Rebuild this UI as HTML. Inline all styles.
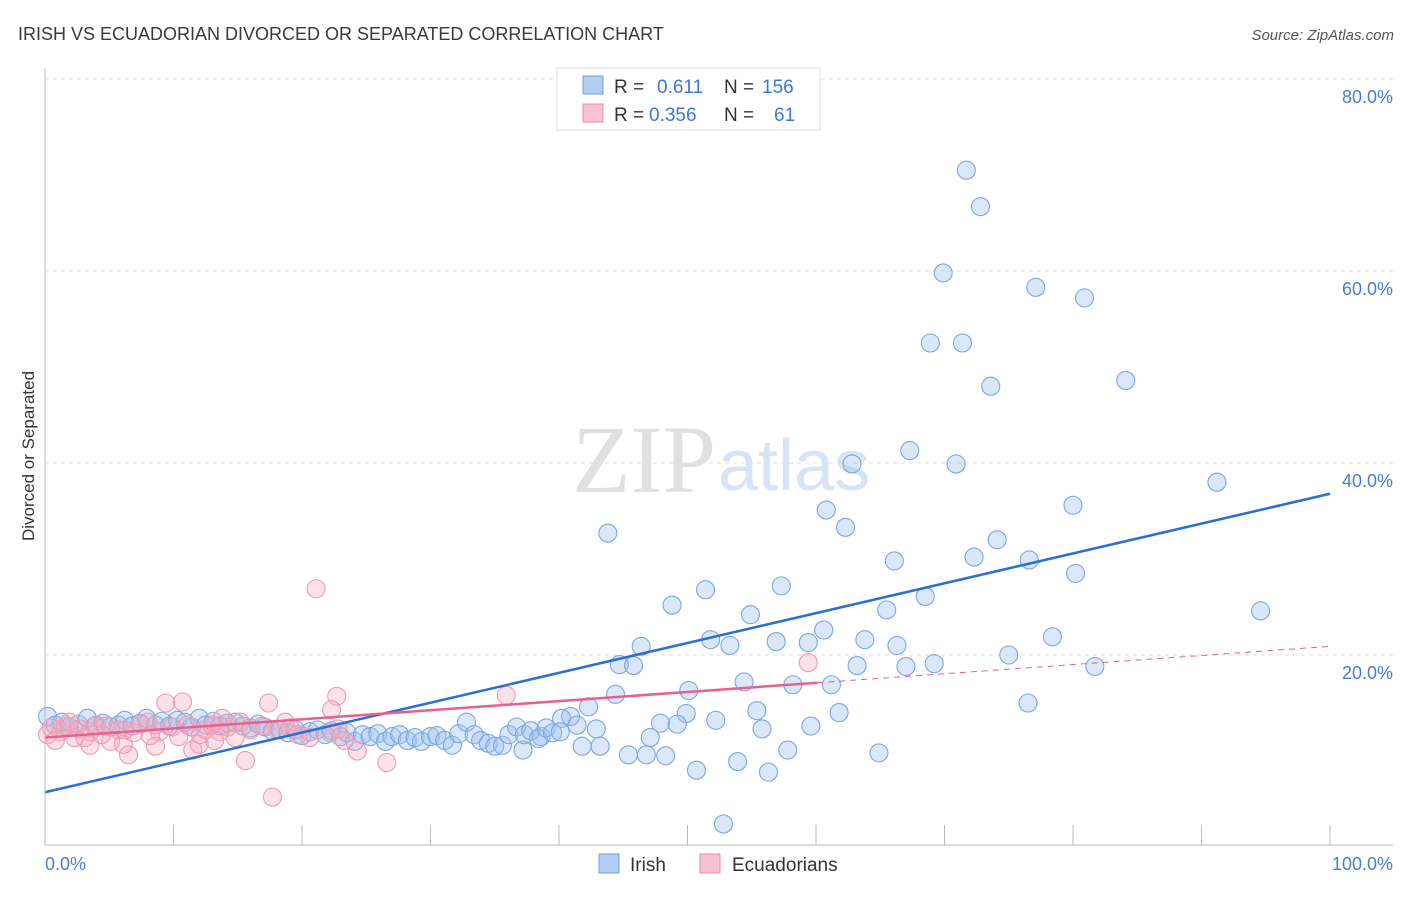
<!DOCTYPE html>
<html><head><meta charset="utf-8"><style>
body{margin:0;background:#fff;font-family:"Liberation Sans",sans-serif;}
</style></head><body>
<svg id="chart" width="1406" height="892" xmlns="http://www.w3.org/2000/svg" font-family="Liberation Sans, sans-serif">
<text x="18" y="40" font-size="18" fill="#3a3a3a">IRISH VS ECUADORIAN DIVORCED OR SEPARATED CORRELATION CHART</text>
<text x="1394" y="40" font-size="15" fill="#555" text-anchor="end" font-style="italic">Source: ZipAtlas.com</text>
<text x="34" y="456" font-size="17" fill="#333" text-anchor="middle" transform="rotate(-90 34 456)">Divorced or Separated</text>
<g id="grid"></g>
<text x="716" y="492" font-size="96" fill="#e0e0e0" text-anchor="end" style="font-family:'Liberation Serif',serif">ZIP</text>
<text x="718" y="490" font-size="72" fill="#d6e4f5">atlas</text>
<g id="marks"></g>
<g id="lines"></g>
<line x1="45" y1="68" x2="45" y2="845" stroke="#bbb"/>
<line x1="45" y1="845" x2="1393" y2="845" stroke="#bbb"/>
<text x="45" y="870" font-size="18" fill="#4a7fd0">0.0%</text>
<text x="1393" y="870" font-size="18" fill="#4a7fd0" text-anchor="end">100.0%</text>
<g>
<rect x="557" y="68" width="263" height="62" fill="#fff" stroke="#ddd"/>
<rect x="583" y="76" width="20" height="18" fill="#b4cdf2" stroke="#6ea0e0"/>
<rect x="583" y="104" width="20" height="18" fill="#f8c2d2" stroke="#f08aa8"/>
<text x="614" y="93" font-size="19" fill="#333">R =</text><text x="657" y="93" font-size="19" fill="#3b78d8">0.611</text>
<text x="724" y="93" font-size="19" fill="#333">N =</text><text x="762" y="93" font-size="19" fill="#3b78d8">156</text>
<text x="614" y="121" font-size="19" fill="#333">R =</text><text x="649" y="121" font-size="19" fill="#3b78d8">0.356</text>
<text x="724" y="121" font-size="19" fill="#333">N =</text><text x="774" y="121" font-size="19" fill="#3b78d8">61</text>
</g>
<g><rect x="599" y="854" width="20" height="19" fill="#b4cdf2" stroke="#6ea0e0"/><text x="630" y="871" font-size="19" fill="#333">Irish</text></g>
<g><rect x="700" y="854" width="20" height="19" fill="#f8c2d2" stroke="#f08aa8"/><text x="732" y="871" font-size="19" fill="#333">Ecuadorians</text></g>
</svg>
<script>
const yTicks=[20,40,60,80];
const xTicks=[0,10,20,30,40,50,60,70,80,90,100];
const irishX=[71.7,72.8,69.9,77.1,80.9,68.9,71.4,73.6,84.1,67.3,62.8,70.9,91.2,80.0,60.8,62.3,43.8,74.1,72.3,76.6,66.1,80.2,57.3,51.4,68.5,48.8,65.5,94.6,54.9,60.6,78.4,51.8,63.8,59.4,56.9,53.3,46.4,66.3,75.0,69.2,63.2,67.0,44.7,45.8,81.7,54.4,58.2,61.2,50.1,44.4,76.5,42.3,55.4,49.9,61.8,40.9,40.2,52.2,47.9,49.2,41.4,59.6,55.8,42.9,47.1,38.6,43.2,41.8,57.8,37.2,45.4,46.8,48.3,64.9,53.9,50.7,56.3,52.8,
0.2,0.8,1.3,1.9,2.6,3.3,3.9,4.5,5.1,5.7,6.2,6.8,7.4,7.9,8.6,9.1,9.7,10.3,10.9,11.4,12.0,12.5,13.1,13.6,14.2,14.8,15.4,16.0,16.6,17.1,17.7,18.3,18.9,19.5,20.0,20.6,21.2,21.8,22.3,23.0,23.5,24.1,24.7,25.3,25.9,26.5,27.0,27.6,28.2,28.8,29.3,30.0,30.5,31.1,31.7,32.2,32.8,33.4,33.9,34.5,35.0,35.6,36.1,36.7,37.3,37.8,38.4,39.0,39.5,40.1];
const irishY=[70.5,66.7,59.8,58.3,57.2,52.5,52.5,48.0,48.6,41.3,39.9,39.9,38.0,35.6,35.1,33.3,32.7,32.0,30.2,29.9,29.8,28.5,27.2,26.8,26.1,25.2,24.7,24.6,24.2,22.6,21.9,21.6,21.6,21.3,21.4,21.0,20.9,21.0,20.0,19.1,18.9,18.8,19.0,18.9,18.8,17.2,16.9,16.9,16.3,15.9,15.0,14.6,14.2,13.9,14.0,13.6,13.4,13.2,12.9,12.8,12.7,12.6,12.3,12.3,11.4,11.5,10.5,10.5,10.1,10.1,9.6,9.6,9.5,9.8,8.9,8.0,7.8,2.4,
13.6,12.7,13.0,12.5,12.8,13.4,12.6,12.9,12.5,12.7,13.2,12.6,12.9,13.4,12.7,13.1,12.6,13.2,13.0,12.5,13.4,12.7,13.1,12.6,12.9,13.0,12.6,12.4,12.8,12.5,12.1,12.2,11.9,12.2,11.6,12.0,12.2,11.7,12.1,11.5,11.9,11.0,11.7,11.5,11.8,11.0,11.5,11.7,11.1,11.4,11.0,11.5,11.6,11.1,10.6,11.8,13.0,11.7,11.1,10.8,10.5,10.6,11.7,12.5,11.7,12.1,11.3,12.4,11.9,12.0];
const ecuX=[21.1,35.9,59.4,22.7,10.7,9.4,17.4,22.3,17.7,15.6,24.3,26.6,6.5,8.6,11.5,12.0,14.8,18.7,19.1,13.8,8.0,5.1,6.1,4.4,2.3,1.2,0.2,0.5,1.6,2.7,3.5,4.0,5.7,6.9,7.4,8.9,9.9,10.4,11.1,12.5,13.0,14.2,15.2,16.0,16.9,18.1,19.7,20.6,22.2,23.3,0.8,3.1,4.7,8.2,12.1,13.6,1.9,3.5,6.2,13.2,22.8];
const ecuY=[26.9,15.8,19.2,15.7,15.1,15.0,15.0,14.3,5.2,9.0,10.0,8.8,9.6,10.5,10.1,10.7,11.4,13.0,12.4,13.4,13.0,11.0,10.7,11.7,11.4,12.0,11.7,12.4,12.6,12.3,12.0,12.7,12.2,11.9,12.8,12.0,12.5,11.5,12.7,12.2,12.7,12.5,13.0,12.2,12.6,12.2,11.7,11.4,11.9,11.1,11.1,11.4,12.6,11.6,11.7,12.0,13.0,10.6,12.2,11.1,12.3];
const irishTrend=[5.7,36.8];
const ecuTrend=[11.4,20.9];
const ecuSolidEnd=60.1;
const NS='http://www.w3.org/2000/svg';
const sx=v=>45+v*12.85, sy=v=>847-v*9.6;
function mk(tag,attrs,parent){const e=document.createElementNS(NS,tag);for(const k in attrs)e.setAttribute(k,attrs[k]);parent.appendChild(e);return e;}
const grid=document.getElementById('grid'),marks=document.getElementById('marks'),lines=document.getElementById('lines'),svg=document.getElementById('chart');
yTicks.forEach(t=>{
 const l=mk('line',{x1:45,x2:1393,y1:sy(t),y2:sy(t),stroke:'#ddd','stroke-dasharray':'4,4'},grid);
 
 
 const tx=mk('text',{x:1393,y:sy(t)+24,'font-size':18,fill:'#4a7fd0','text-anchor':'end'},svg);
 tx.textContent=t.toFixed(1)+'%';
 
 
});
xTicks.forEach(t=>{
 const l=mk('line',{x1:sx(t),x2:sx(t),y1:825,y2:845,stroke:'#bbb'},grid);
 
 
});
irishX.forEach((x,i)=>{
 const c=mk('circle',{cx:sx(x),cy:sy(irishY[i]),r:9,fill:'rgba(160,196,240,0.4)',stroke:'#7aa8e4','stroke-width':1.1},marks);
 
 
});
ecuX.forEach((x,i)=>{
 const c=mk('circle',{cx:sx(x),cy:sy(ecuY[i]),r:9,fill:'rgba(245,170,190,0.35)',stroke:'#f09ab4','stroke-width':1.1},marks);
 
 
});
const ey=x=>ecuTrend[0]+(ecuTrend[1]-ecuTrend[0])*x/100;
const l1=mk('line',{x1:sx(0),y1:sy(irishTrend[0]),x2:sx(100),y2:sy(irishTrend[1]),stroke:'#2a6fd6','stroke-width':2.5},lines);


const l2=mk('line',{x1:sx(0),y1:sy(ey(0)),x2:sx(ecuSolidEnd),y2:sy(ey(ecuSolidEnd)),stroke:'#e8608e','stroke-width':2.5},lines);


const l3=mk('line',{x1:sx(ecuSolidEnd),y1:sy(ey(ecuSolidEnd)),x2:sx(100),y2:sy(ey(100)),stroke:'#e8608e','stroke-width':1,'stroke-dasharray':'6,5'},lines);


</script>
</body></html>
